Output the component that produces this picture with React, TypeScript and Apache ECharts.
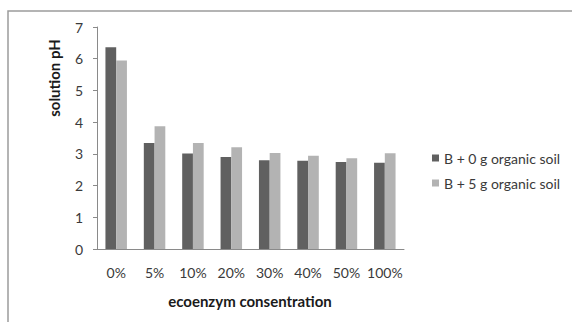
import React, { useEffect, useRef } from "react";
import * as echarts from "echarts";

const categories = ["0%", "5%", "10%", "20%", "30%", "40%", "50%", "100%"];
const seriesNames = ["B + 0 g organic soil", "B + 5 g organic soil"];
const soil0 = [6.36, 3.34, 3.01, 2.9, 2.8, 2.78, 2.74, 2.72];
const soil5 = [5.94, 3.87, 3.34, 3.21, 3.03, 2.94, 2.86, 3.02];
const yTicks = { min: 0, max: 7, interval: 1 };
const xTitle = "ecoenzym consentration";
const yTitle = "solution pH";

const FONT = "Lato, 'Open Sans', sans-serif";

export default function App() {
  const ref = useRef<HTMLDivElement>(null);
  useEffect(() => {
    if (!ref.current) return;
    const chart = echarts.init(ref.current, undefined, { renderer: "svg" });
    chart.setOption({
      animation: false,
      backgroundColor: "#ffffff",
      textStyle: { fontFamily: FONT },
      grid: { left: 97, right: 168, top: 27, bottom: 73, containLabel: false },
      legend: {
        orient: "vertical",
        left: 427,
        top: 146,
        itemWidth: 7,
        itemHeight: 7,
        itemGap: 11,
        icon: "rect",
        textStyle: { fontFamily: FONT, fontSize: 14, color: "#3a3a3a" },
        data: seriesNames,
      },
      xAxis: {
        type: "category",
        data: categories,
        axisLine: { show: true, lineStyle: { color: "#8a8a8a", width: 1 } },
        axisTick: { show: false },
        axisLabel: { color: "#3a3a3a", fontSize: 14, margin: 16, fontFamily: FONT, interval: 0 },
        splitLine: { show: false },
      },
      yAxis: {
        type: "value",
        min: yTicks.min,
        max: yTicks.max,
        interval: yTicks.interval,
        axisLine: { show: true, lineStyle: { color: "#8a8a8a", width: 1 } },
        axisTick: { show: true, inside: false, length: 4, lineStyle: { color: "#8a8a8a" } },
        axisLabel: { color: "#3a3a3a", fontSize: 14, margin: 14, fontFamily: FONT },
        splitLine: { show: false },
      },
      series: [
        {
          name: seriesNames[0],
          type: "bar",
          data: soil0,
          itemStyle: { color: "#606060" },
          barGap: "0%",
          barCategoryGap: "44%",
        },
        {
          name: seriesNames[1],
          type: "bar",
          data: soil5,
          itemStyle: { color: "#b3b3b3" },
          barGap: "0%",
          barCategoryGap: "44%",
        },
      ],
      graphic: [
        {
          type: "rect",
          shape: { x: 8, y: 11, width: 700, height: 400 },
          style: { fill: "none", stroke: "#9c9c9c", lineWidth: 1.5 },
          silent: true,
        },
        {
          type: "text",
          x: 54,
          y: 78,
          rotation: Math.PI / 2,
          style: {
            text: yTitle,
            fontFamily: FONT,
            fontSize: 15,
            fontWeight: "bold",
            fill: "#1a1a1a",
            align: "center",
            verticalAlign: "middle",
          },
        },
        {
          type: "text",
          x: 250,
          y: 301,
          style: {
            text: xTitle,
            fontFamily: FONT,
            fontSize: 15,
            fontWeight: "bold",
            fill: "#1a1a1a",
            align: "center",
            verticalAlign: "middle",
          },
        },
      ],
    });
    return () => chart.dispose();
  }, []);
  return (
    <div
      ref={ref}
      style={{ position: "absolute", left: 0, top: 0, width: 572, height: 322 }}
    />
  );
}
